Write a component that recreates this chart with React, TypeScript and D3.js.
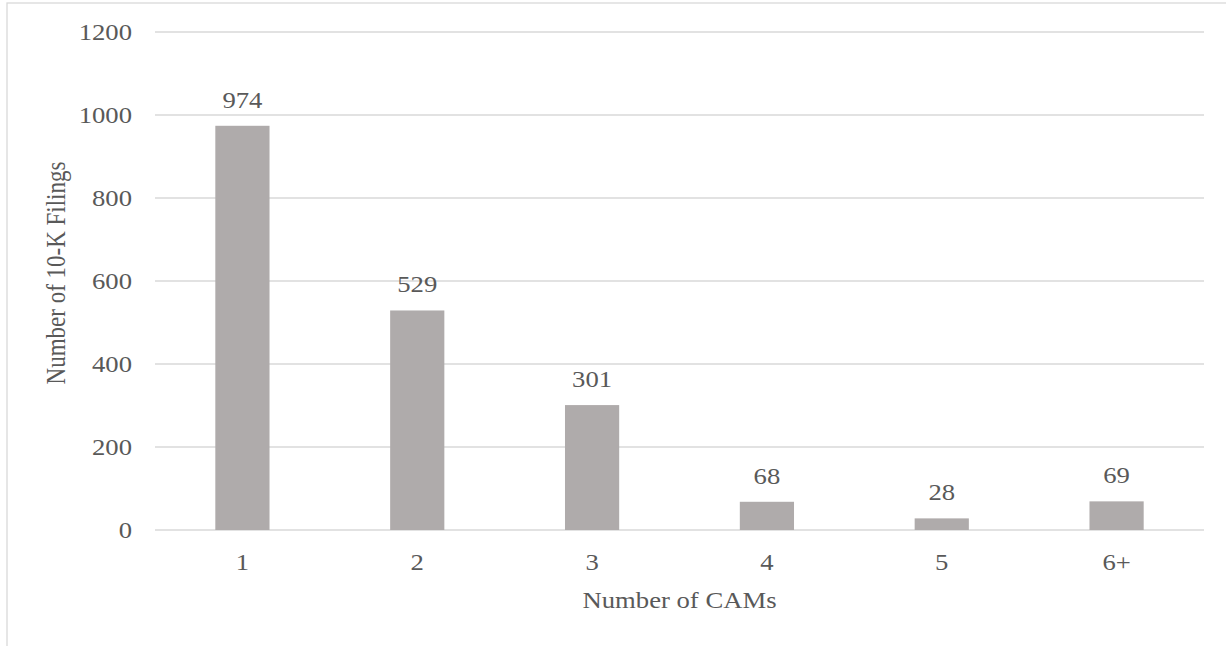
import React from "react";
import * as d3 from "d3";

const categories = ["1", "2", "3", "4", "5", "6+"];
const values = [974, 529, 301, 68, 28, 69];
const yTicks = [0, 200, 400, 600, 800, 1000, 1200];
const yTitle = "Number of 10-K Filings";
const xTitle = "Number of CAMs";

const W = 1226;
const H = 646;
const left = 155;
const right = 1204;
const top = 32;
const bottom = 530;
const FONT = "'Liberation Serif', 'Times New Roman', serif";
const TXT = "#595959";
const FS = 23;
const SX = 1.16;

function T({ x, y, anchor = "middle", dy, rotate, children }: any) {
  const tr = `translate(${x},${y}) scale(${SX},1)` + (rotate ? ` rotate(${rotate})` : "");
  return (
    <text transform={tr} dy={dy} textAnchor={anchor} fontFamily={FONT} fontSize={FS} fill={TXT}>
      {children}
    </text>
  );
}

export default function App() {
  const x = d3.scaleBand<string>().domain(categories).range([left, right]).paddingInner(0.69).paddingOuter(0.345);
  const y = d3.scaleLinear().domain([0, 1200]).range([bottom, top]);
  const bw = x.bandwidth();
  return (
    <svg width={W} height={H} style={{ position: "absolute", left: 0, top: 0 }}>
      <rect x={0} y={0} width={W} height={H} fill="#fff" />
      <rect x={7} y={3} width={1400} height={900} fill="none" stroke="#d9d9d9" strokeWidth={1.3} />
      {yTicks.map((t) => (
        <g key={t}>
          <line x1={left} x2={right} y1={y(t)} y2={y(t)} stroke="#d9d9d9" strokeWidth={1.3} />
          <T x={132} y={y(t)} dy="0.35em" anchor="end">
            {t}
          </T>
        </g>
      ))}
      {categories.map((c, i) => (
        <g key={c}>
          <rect x={x(c)!} y={y(values[i])} width={bw} height={y(0) - y(values[i])} fill="#afabab" />
          <T x={x(c)! + bw / 2} y={y(values[i]) - 18}>
            {values[i]}
          </T>
          <T x={x(c)! + bw / 2} y={570}>
            {c}
          </T>
        </g>
      ))}
      <T x={(left + right) / 2} y={608}>
        {xTitle}
      </T>
      <T x={65} y={273} rotate={-90}>
        {yTitle}
      </T>
    </svg>
  );
}
